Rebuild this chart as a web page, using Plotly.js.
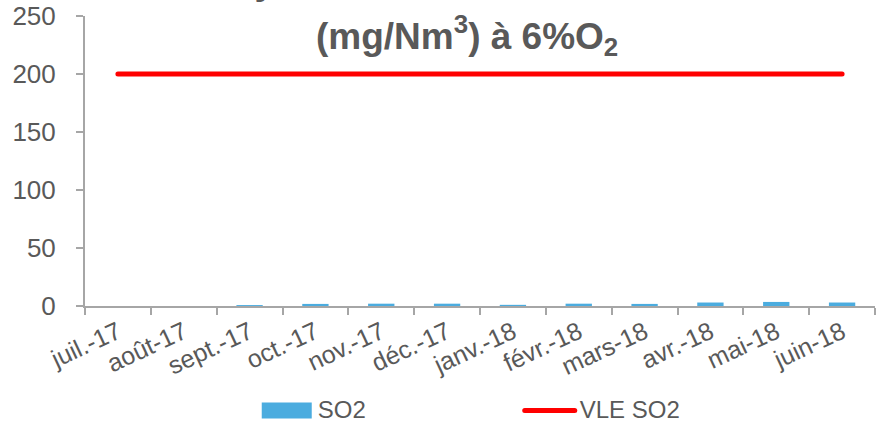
<!DOCTYPE html>
<html>
<head>
<meta charset="utf-8">
<script src="https://cdn.plot.ly/plotly-3.0.1.min.js"></script>
<style>html,body{margin:0;padding:0;background:#fff;}#chart{width:876px;height:422px;}</style>
</head>
<body>
<div id="chart"></div>
<script>
const months = ["juil.-17","août-17","sept.-17","oct.-17","nov.-17","déc.-17","janv.-18","févr.-18","mars-18","avr.-18","mai-18","juin-18"];
const so2 = [0, 0, 0.8, 1.8, 2, 2, 1, 2, 1.8, 3, 3.5, 3];
const vle = [200, 200, 200, 200, 200, 200, 200, 200, 200, 200, 200, 200];
const yTicks = [0, 50, 100, 150, 200, 250];
const titleLine1 = 'Moyennes mensuelles en SO2';
const titleLine2 = '(mg/Nm<sup>3</sup>) à 6%O<sub>2</sub>';

const grey = '#595959';
const axisCol = '#a6a6a6';
const font = 'Liberation Sans, Arial, sans-serif';

const data = [
  {type:'bar', name:'SO2', x:months, y:so2, marker:{color:'#4bacdf'}, width:0.4},
  {type:'scatter', mode:'lines', name:'VLE SO2', x:months, y:vle, line:{color:'#ff0000', width:5}}
];

const layout = {
  width:876, height:422,
  margin:{l:85, r:1, t:16, b:116, autoexpand:false},
  paper_bgcolor:'#fff', plot_bgcolor:'#fff',
  font:{family:font, color:grey, size:24},
  showlegend:true,
  legend:{orientation:'h', x:0.206, xanchor:'left', y:-0.355, yanchor:'middle', entrywidth:187, itemwidth:60,
          font:{size:24, color:grey}},
  xaxis:{type:'category', range:[-0.5, 11.5], showline:true, linecolor:axisCol, linewidth:2,
         ticks:'outside', tickson:'boundaries', ticklen:7, tickcolor:axisCol, tickwidth:2,
         tickangle:-25, tickfont:{size:25, color:grey}, showgrid:false, zeroline:false, automargin:false},
  yaxis:{range:[0, 250], tickvals:yTicks, showline:true, linecolor:axisCol, linewidth:2,
         ticks:'outside', ticklen:7, tickcolor:axisCol, tickwidth:2, ticklabelstandoff:15,
         tickfont:{size:26, color:grey}, showgrid:false, zeroline:false, automargin:false},
  annotations:[
    {xref:'paper', yref:'paper', x:0.4835, y:1.043, xanchor:'center', yanchor:'bottom',
     showarrow:false, text:'<b>' + titleLine1 + '</b>', font:{family:font, size:37, color:grey}},
    {xref:'paper', yref:'paper', x:0.4835, y:0.934, xanchor:'center', yanchor:'middle',
     showarrow:false, text:'<b>' + titleLine2 + '</b>', font:{family:font, size:37, color:grey}}
  ]
};

Plotly.newPlot('chart', data, layout, {displayModeBar:false, staticPlot:true}).then(function(gd){
  // widen legend swatches to look like the reference
  const items = gd.querySelectorAll('.legend .traces');
  items.forEach(function(item){
    const text = item.querySelector('text.legendtext');
    const barSym = item.querySelector('.legendpoints path');
    const lineSym = item.querySelector('.legendlines path');
    const sym = barSym || lineSym;
    if(!text || !sym) return;
    const tr = text.getBoundingClientRect();
    const m = sym.getScreenCTM().inverse();
    const svg = sym.ownerSVGElement;
    function loc(x, y){ const p = svg.createSVGPoint(); p.x = x; p.y = y; return p.matrixTransform(m); }
    const cy = tr.top + tr.height/2 + 1;
    if(barSym){
      const a = loc(tr.left - 56, cy - 8), b = loc(tr.left - 6, cy + 8);
      sym.setAttribute('d', 'M'+a.x+','+a.y+'H'+b.x+'V'+b.y+'H'+a.x+'Z');
    } else {
      const a = loc(tr.left - 55, cy), b = loc(tr.left - 5, cy);
      sym.setAttribute('d', 'M'+a.x+','+a.y+'L'+b.x+','+b.y);
      sym.style.strokeLinecap = 'round';
    }
  });
  gd.querySelectorAll('.scatterlayer .js-line').forEach(function(p){ p.style.strokeLinecap = 'round'; });
});
</script>
</body>
</html>
